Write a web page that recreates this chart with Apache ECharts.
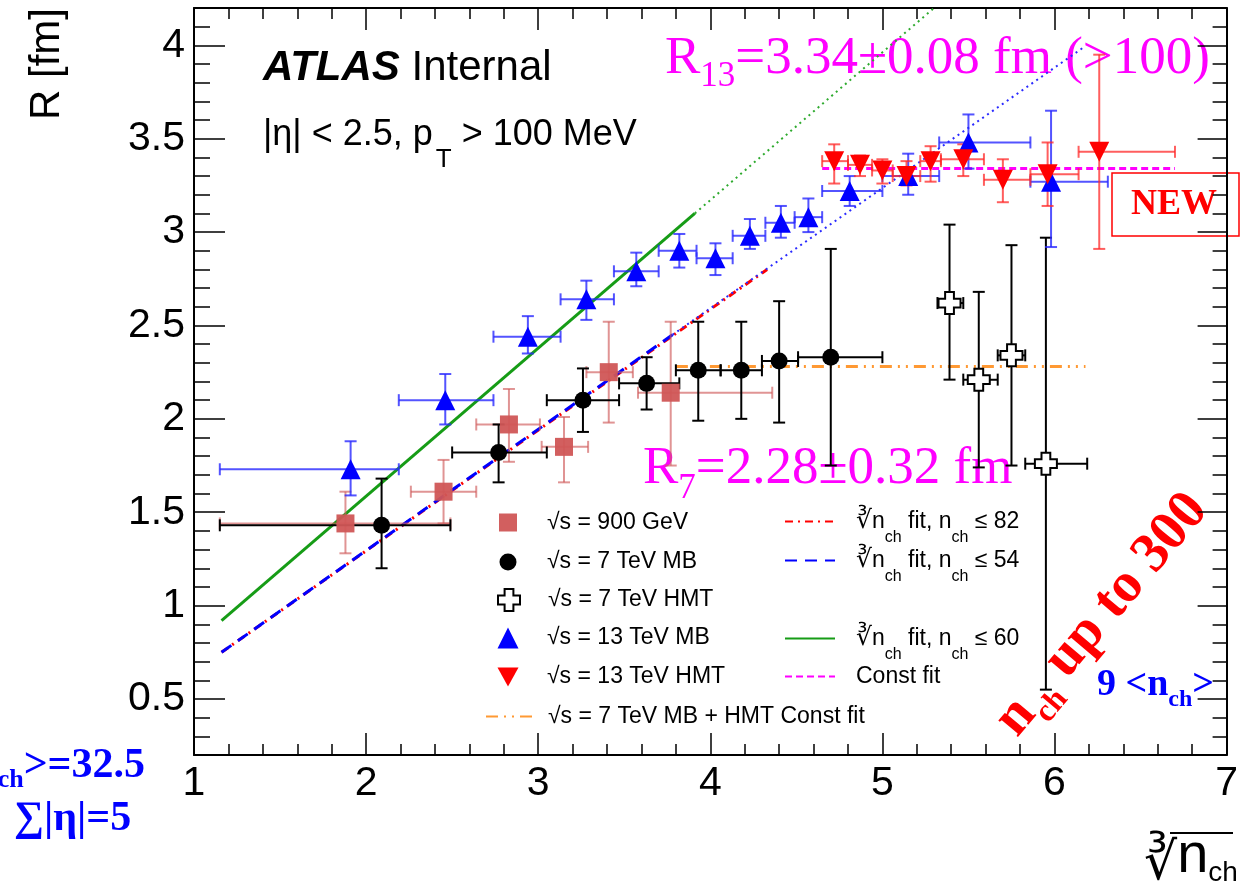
<!DOCTYPE html>
<html>
<head>
<meta charset="utf-8">
<script src="https://cdn.jsdelivr.net/npm/echarts@6/dist/echarts.min.js"></script>
<style>
  html, body { margin: 0; padding: 0; background: #fff; }
  #chart { width: 1241px; height: 886px; }
</style>
</head>
<body>
<div id="chart"></div>
<script>
  const SANS = "'Liberation Sans', 'DejaVu Sans', sans-serif";
  const SERIF = "'Liberation Serif', 'DejaVu Serif', serif";

  // each point: [cbrt(nch), R, xLow, xHigh, RLow, RHigh]
  const pts900 = [
    [1.88, 1.44, 1.15, 2.49, 1.28, 1.61],
    [2.45, 1.61, 2.26, 2.64, 1.44, 1.78],
    [2.83, 1.97, 2.64, 3.01, 1.77, 2.16],
    [3.15, 1.85, 3.02, 3.29, 1.66, 2.01],
    [3.41, 2.25, 3.28, 3.55, 1.98, 2.52],
    [3.77, 2.14, 3.58, 4.36, 1.75, 2.52]
  ];
  const pts7MB = [
    [2.09, 1.43, 1.15, 2.49, 1.20, 1.68],
    [2.77, 1.82, 2.50, 3.05, 1.66, 1.97],
    [3.26, 2.10, 3.05, 3.47, 1.93, 2.27],
    [3.63, 2.19, 3.47, 3.82, 2.05, 2.33],
    [3.93, 2.26, 3.80, 4.06, 1.99, 2.52],
    [4.18, 2.26, 4.06, 4.30, 2.00, 2.52],
    [4.40, 2.31, 4.30, 4.51, 1.98, 2.63],
    [4.70, 2.33, 4.51, 5.00, 1.75, 2.91]
  ];
  const pts7HMT = [
    [5.39, 2.62, 5.32, 5.47, 2.21, 3.04],
    [5.56, 2.21, 5.47, 5.67, 1.74, 2.68],
    [5.75, 2.34, 5.67, 5.83, 1.75, 2.93],
    [5.95, 1.76, 5.83, 6.19, 0.55, 2.97]
  ];
  const pts13MB = [
    [1.91, 1.73, 1.15, 2.19, 1.59, 1.88],
    [2.46, 2.10, 2.19, 2.74, 1.97, 2.24],
    [2.94, 2.44, 2.74, 3.13, 2.35, 2.55],
    [3.28, 2.64, 3.13, 3.44, 2.53, 2.74],
    [3.57, 2.79, 3.44, 3.70, 2.71, 2.89],
    [3.82, 2.90, 3.70, 3.92, 2.81, 2.99],
    [4.03, 2.86, 3.92, 4.13, 2.77, 2.94],
    [4.23, 2.98, 4.13, 4.32, 2.91, 3.07],
    [4.41, 3.05, 4.32, 4.49, 2.97, 3.14],
    [4.57, 3.08, 4.49, 4.65, 3.00, 3.18],
    [4.81, 3.22, 4.65, 5.00, 3.14, 3.30],
    [5.15, 3.30, 5.00, 5.33, 3.20, 3.42],
    [5.50, 3.48, 5.33, 5.86, 3.34, 3.63],
    [5.98, 3.27, 5.86, 6.31, 2.92, 3.65]
  ];
  const pts13HMT = [
    [4.72, 3.38, 4.65, 4.80, 3.26, 3.47],
    [4.87, 3.36, 4.80, 4.94, 3.30, 3.41],
    [5.00, 3.33, 4.94, 5.06, 3.26, 3.39],
    [5.14, 3.30, 5.06, 5.22, 3.25, 3.38],
    [5.28, 3.38, 5.22, 5.34, 3.27, 3.46],
    [5.47, 3.39, 5.34, 5.59, 3.30, 3.47],
    [5.70, 3.28, 5.59, 5.86, 3.16, 3.39],
    [5.96, 3.31, 5.86, 6.14, 3.14, 3.48],
    [6.26, 3.43, 6.14, 6.70, 2.91, 3.95]
  ];

  // fit lines, end points
  const fit82 = [[1.16, 0.75], [4.33, 2.80]];
  const fit54 = [[1.16, 0.75], [3.78, 2.45]];
  const fit54Ext = [[3.78, 2.45], [6.17, 3.99]];
  const fit60 = [[1.16, 0.92], [3.91, 3.10]];
  const fit60Ext = [[3.91, 3.10], [5.30, 4.20]];
  const const13 = [[4.65, 3.34], [6.70, 3.34]];
  const const7 = [[3.80, 2.28], [6.18, 2.28]];

  // axis ticks
  const xLabels = [1, 2, 3, 4, 5, 6, 7];
  const yMajor = [0.5, 1, 1.5, 2, 2.5, 3, 3.5, 4];
  const yMinor = [];
  for (let i = 3; i <= 41; i++) {
    if (i % 5 !== 0) yMinor.push(+(i / 10).toFixed(1));
  }

  const chart = echarts.init(document.getElementById('chart'));

  function errorBars(color, width) {
    return function (params, api) {
      const x = api.value(0), y = api.value(1);
      const c = api.coord([x, y]);
      const l = api.coord([api.value(2), y])[0];
      const r = api.coord([api.value(3), y])[0];
      const b = api.coord([x, api.value(4)])[1];
      const t = api.coord([x, api.value(5)])[1];
      const h = 6;
      const st = { stroke: color, lineWidth: width };
      const seg = (x1, y1, x2, y2) => ({ type: 'line', shape: { x1, y1, x2, y2 }, style: st });
      return {
        type: 'group',
        children: [
          seg(l, c[1], r, c[1]), seg(l, c[1] - h, l, c[1] + h), seg(r, c[1] - h, r, c[1] + h),
          seg(c[0], b, c[0], t), seg(c[0] - h, b, c[0] + h, b), seg(c[0] - h, t, c[0] + h, t)
        ]
      };
    };
  }

  function errSeries(data, color) {
    return {
      type: 'custom', renderItem: errorBars(color, 2), data: data,
      encode: { x: 0, y: 1 }, clip: true, z: 3, silent: true
    };
  }

  function fitSeries(name, data, color, width, dash) {
    return {
      type: 'line', name: name, data: data, symbol: 'none', clip: true, z: 2, silent: true,
      lineStyle: { color: color, width: width, type: dash }, itemStyle: { color: color }
    };
  }

  const crossPath = 'path://M3,0 H7 V3 H10 V7 H7 V10 H3 V7 H0 V3 H3 Z';
  const downTriPath = 'path://M0,0 L10,0 L5,9 Z';

  const legendLabels = {
    g900: '{t|√s = 900 GeV}',
    g7mb: '{t|√s = 7 TeV MB}',
    g7hmt: '{t|√s = 7 TeV HMT}',
    g13mb: '{t|√s = 13 TeV MB}',
    g13hmt: '{t|√s = 13 TeV HMT}',
    c7: '{t|√s = 7 TeV MB + HMT Const fit}',
    f82: '{rt|∛}{t|n}{sub|ch}{t| fit, n}{sub|ch}{t| ≤ 82}',
    f54: '{rt|∛}{t|n}{sub|ch}{t| fit, n}{sub|ch}{t| ≤ 54}',
    f60: '{rt|∛}{t|n}{sub|ch}{t| fit, n}{sub|ch}{t| ≤ 60}',
    c13: '{t|Const fit}'
  };
  const legendRich = {
    t: { fontSize: 23, fontFamily: SANS, color: '#000' },
    rt: { fontSize: 25, fontFamily: "'DejaVu Sans'", color: '#000' },
    sub: { fontSize: 16, fontFamily: SANS, color: '#000', padding: [32, 0, 0, 0] }
  };
  // marker rows: icon centred at x = 508, text starts at x = 547
  // line rows: icon from left over w pixels
  const legendRows = [
    { name: 'g900', cx: 508, y: 520, w: 18, h: 18 },
    { name: 'g7mb', cx: 508, y: 559, w: 17, h: 17 },
    { name: 'g7hmt', cx: 508, y: 599, w: 22, h: 22 },
    { name: 'g13mb', cx: 508, y: 637, w: 21, h: 21 },
    { name: 'g13hmt', cx: 508, y: 676, w: 21, h: 21, icon: downTriPath },
    { name: 'c7', cx: 508, y: 715, w: 46, h: 20, line: true },
    { name: 'f82', cx: 809, y: 519, w: 50, h: 20, line: true, tx: 855 },
    { name: 'f54', cx: 809, y: 558, w: 50, h: 20, line: true, tx: 855 },
    { name: 'f60', cx: 809, y: 636, w: 50, h: 20, line: true, tx: 855 },
    { name: 'c13', cx: 809, y: 675, w: 50, h: 20, line: true, tx: 855 }
  ];

  const tickStyle = { color: '#000', width: 1.5 };
  const lineAxis = { show: true, onZero: false, lineStyle: { color: '#000', width: 2 } };

  function xAx(pos, labels) {
    return {
      type: 'value', min: 1, max: 7, interval: 1, position: pos,
      axisLine: lineAxis, splitLine: { show: false },
      axisTick: { inside: true, length: 22, lineStyle: tickStyle },
      minorTick: { show: true, splitNumber: 5, length: 11, lineStyle: tickStyle },
      axisLabel: labels ? {
        fontSize: 41, fontFamily: SANS, color: '#000', margin: 8,
        formatter: v => xLabels.indexOf(v) >= 0 ? String(v) : ''
      } : { show: false }
    };
  }
  function yAx(pos, values, len, labels, showLine) {
    return {
      type: 'value', min: 0.2, max: 4.2, position: pos,
      axisLine: showLine ? lineAxis : { show: false }, splitLine: { show: false },
      axisTick: { inside: true, length: len, lineStyle: tickStyle, customValues: values },
      axisLabel: labels ? {
        customValues: values, fontSize: 41, fontFamily: SANS, color: '#000', margin: 9
      } : { show: false }
    };
  }

  const option = {
    animation: false,
    backgroundColor: '#fff',
    grid: { left: 194, right: 10, top: 8, bottom: 131 },
    xAxis: [xAx('bottom', true), xAx('top', false)],
    yAxis: [
      yAx('left', yMajor, 31, true, true),
      yAx('left', yMinor, 16, false, false),
      yAx('right', yMajor, 29, false, true),
      yAx('right', yMinor, 14, false, false)
    ],
    legend: legendRows.map(r => {
      const left = r.cx - r.w / 2;
      const pad = (r.tx || 547) - (left + r.w + 5);
      const leg = {
        data: [r.icon ? { name: r.name, icon: r.icon } : r.name],
        left: left, top: r.y - r.h / 2, itemWidth: r.w, itemHeight: r.h,
        padding: 0, selectedMode: false,
        formatter: name => legendLabels[name],
        textStyle: { fontSize: 23, fontFamily: SANS, color: '#000', padding: [0, 0, 0, pad], rich: legendRich }
      };
      if (r.line) leg.itemStyle = { color: 'rgba(0,0,0,0)', borderWidth: 0, opacity: 0 };
      return leg;
    }),
    series: [
      fitSeries('f82', fit82, '#ff0000', 3, [8, 5, 2, 5]),
      fitSeries('f54', fit54, '#0000ff', 3, [12, 8]),
      fitSeries('f54x', fit54Ext, '#2a2aff', 2, [2, 4]),
      fitSeries('f60', fit60, '#169c16', 3, 'solid'),
      fitSeries('f60x', fit60Ext, '#2eaa2e', 2, [2, 4]),
      fitSeries('c13', const13, '#ff00ff', 3, [7, 4]),
      fitSeries('c7', const7, '#ff9933', 3, [12, 6, 2, 6, 2, 6]),
      errSeries(pts900, 'rgba(208,90,90,0.65)'),
      errSeries(pts7MB, '#000'),
      errSeries(pts7HMT, '#000'),
      errSeries(pts13MB, 'rgba(40,40,255,0.8)'),
      errSeries(pts13HMT, 'rgba(255,40,40,0.75)'),
      {
        type: 'scatter', name: 'g900', data: pts900, encode: { x: 0, y: 1 }, z: 4,
        symbol: 'rect', symbolSize: 18, itemStyle: { color: '#d05656', opacity: 0.95 }
      },
      {
        type: 'scatter', name: 'g7mb', data: pts7MB, encode: { x: 0, y: 1 }, z: 5,
        symbol: 'circle', symbolSize: 17, itemStyle: { color: '#000', opacity: 1 }
      },
      {
        type: 'scatter', name: 'g7hmt', data: pts7HMT, encode: { x: 0, y: 1 }, z: 5,
        symbol: crossPath, symbolSize: 22,
        itemStyle: { color: '#fff', borderColor: '#000', borderWidth: 2, opacity: 1 }
      },
      {
        type: 'scatter', name: 'g13mb', data: pts13MB, encode: { x: 0, y: 1 }, z: 5,
        symbol: 'triangle', symbolSize: 20, itemStyle: { color: '#0000ff', opacity: 1 }
      },
      {
        type: 'scatter', name: 'g13hmt', data: pts13HMT, encode: { x: 0, y: 1 }, z: 5,
        symbol: 'triangle', symbolRotate: 180, symbolSize: 20, itemStyle: { color: '#ff0000', opacity: 1 }
      }
    ],
    graphic: [
      {
        type: 'text', x: 47, y: 64, rotation: Math.PI / 2,
        style: { text: 'R [fm]', fontSize: 42, fontFamily: SANS, fill: '#000', align: 'center', verticalAlign: 'middle' }
      },
      {
        type: 'text', x: 263, y: 68,
        style: {
          text: '{a|ATLAS}{b| Internal}', verticalAlign: 'middle',
          rich: {
            a: { fontSize: 42, fontFamily: SANS, fontWeight: 'bold', fontStyle: 'italic', fill: '#000' },
            b: { fontSize: 42, fontFamily: SANS, fill: '#000' }
          }
        }
      },
      {
        type: 'text', x: 263, y: 135,
        style: {
          text: '{a||η| < 2.5, p}{s|T}{a| > 100 MeV}', verticalAlign: 'middle',
          rich: {
            a: { fontSize: 36, fontFamily: SANS, fill: '#000' },
            s: { fontSize: 26, fontFamily: SANS, fill: '#000', padding: [50, 0, 0, 3] }
          }
        }
      },
      {
        type: 'text', x: 665, y: 59,
        style: {
          text: '{a|R}{s|13}{a|=3.34±0.08 fm (>100)}', verticalAlign: 'middle',
          rich: {
            a: { fontSize: 53, fontFamily: SERIF, fill: '#ff00ff' },
            s: { fontSize: 35, fontFamily: SERIF, fill: '#ff00ff', padding: [35, 0, 0, 0] }
          }
        }
      },
      {
        type: 'text', x: 643, y: 469,
        style: {
          text: '{a|R}{s|7}{a|=2.28±0.32 fm}', verticalAlign: 'middle',
          rich: {
            a: { fontSize: 53, fontFamily: SERIF, fill: '#ff00ff' },
            s: { fontSize: 35, fontFamily: SERIF, fill: '#ff00ff', padding: [39, 0, 0, 0] }
          }
        }
      },
      {
        type: 'rect', shape: { x: 1112, y: 173, width: 127, height: 63 },
        style: { fill: 'none', stroke: '#ff0000', lineWidth: 1.5 }
      },
      {
        type: 'text', x: 1174, y: 205,
        style: { text: 'NEW', fontSize: 36, fontWeight: 'bold', fontFamily: SERIF, fill: '#ff0000', align: 'center', verticalAlign: 'middle' }
      },
      {
        type: 'text', x: 1097, y: 685,
        style: {
          text: '{a|9 <n}{s|ch}{a|>}', verticalAlign: 'middle',
          rich: {
            a: { fontSize: 38, fontWeight: 'bold', fontFamily: SERIF, fill: '#0000ff' },
            s: { fontSize: 24, fontWeight: 'bold', fontFamily: SERIF, fill: '#0000ff', padding: [30, 0, 0, 0] }
          }
        }
      },
      {
        type: 'text', x: 1102, y: 615, rotation: 0.87,
        style: {
          text: '{a|n}{s|ch}{a| up to 300}', align: 'center', verticalAlign: 'middle',
          rich: {
            a: { fontSize: 56, fontWeight: 'bold', fontFamily: SERIF, fill: '#ff0000' },
            s: { fontSize: 32, fontWeight: 'bold', fontFamily: SERIF, fill: '#ff0000', padding: [41, 0, 0, 0] }
          }
        }
      },
      {
        type: 'text', x: 145, y: 766,
        style: {
          text: '{a|<n}{s|ch}{a|>=32.5}', align: 'right', verticalAlign: 'middle',
          rich: {
            a: { fontSize: 42, fontWeight: 'bold', fontFamily: SERIF, fill: '#0000ff' },
            s: { fontSize: 26, fontWeight: 'bold', fontFamily: SERIF, fill: '#0000ff', padding: [28, 0, 0, 0] }
          }
        }
      },
      {
        type: 'text', x: 14, y: 819,
        style: { text: '∑|η|=5', fontSize: 42, fontWeight: 'bold', fontFamily: SERIF, fill: '#0000ff', verticalAlign: 'middle' }
      },
      {
        type: 'text', x: 1144, y: 857,
        style: {
          text: '{r|∛}{n|n}{s|ch}', verticalAlign: 'middle',
          rich: {
            r: { fontSize: 52, fontFamily: "'DejaVu Sans'", fill: '#000', padding: [16, 0, 0, 0] },
            n: { fontSize: 56, fontFamily: SANS, fill: '#000' },
            s: { fontSize: 28, fontFamily: SANS, fill: '#000', padding: [32, 0, 0, 0] }
          }
        }
      },
      {
        type: 'line', shape: { x1: 1170, y1: 833, x2: 1233, y2: 833 },
        style: { stroke: '#000', lineWidth: 2 }
      }
    ]
  };

  chart.setOption(option);
</script>
</body>
</html>
